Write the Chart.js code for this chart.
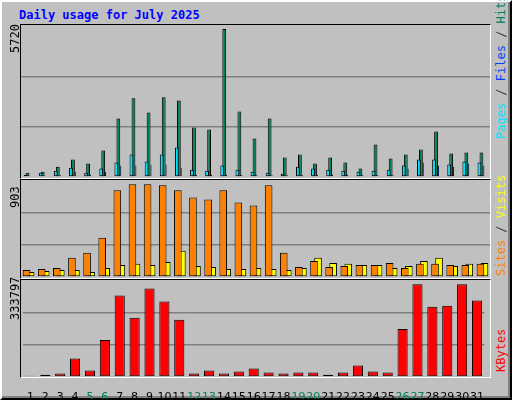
<!DOCTYPE html>
<html><head><meta charset="utf-8">
<script src="https://cdn.jsdelivr.net/npm/chart.js@4"></script>
<style>
body{margin:0;background:#fff}
#frame{position:absolute;left:0;top:0;width:508px;height:396px;background:#c0c0c0;border:2px solid;border-color:#fff #000 #000 #fff;box-shadow:inset -2px -2px 0 #808080}
.panel{position:absolute;left:20px;width:471px;border:1px solid #000;border-right-color:#fff;border-bottom-color:#fff;box-sizing:border-box}
canvas{position:absolute}
.rot{position:absolute;transform:rotate(-90deg);transform-origin:left top;white-space:nowrap;font:12px "DejaVu Sans Mono",monospace}
#title{position:absolute;left:19px;top:8px;font:bold 12px "DejaVu Sans Mono",monospace;color:#0000ff}
</style></head>
<body>
<div id="frame"></div>
<div id="title">Daily usage for July 2025</div>
<div class="panel" style="top:24px;height:155px"></div>
<div class="panel" style="top:179px;height:100px"></div>
<div class="panel" style="top:279px;height:99px"></div>
<canvas id="c1" style="left:21px;top:26px" width="469" height="151"></canvas>
<canvas id="c2" style="left:21px;top:181px" width="469" height="96"></canvas>
<canvas id="c3" style="left:21px;top:281px" width="469" height="118"></canvas>
<div class="rot" style="left:8px;top:53px">5720</div>
<div class="rot" style="left:8px;top:208px">903</div>
<div class="rot" style="left:8px;top:320px">333797</div>
<div class="rot" style="left:494px;top:139px"><span style="color:#00e0ff">Pages</span><span style="color:#404040"> / </span><span style="color:#0040ff">Files</span><span style="color:#404040"> / </span><span style="color:#00805c">Hits</span></div>
<div class="rot" style="left:494px;top:276px"><span style="color:#ff8000">Sites</span><span style="color:#404040"> / </span><span style="color:#ffff00">Visits</span></div>
<div class="rot" style="left:494px;top:372px"><span style="color:#ff0000">KBytes</span></div>
<script>
const days = Array.from({length: 31}, (_, i) => String(i + 1))
const weekends = ['5', '6', '12', '13', '19', '20', '26', '27']
const hits = [168, 207, 401, 673, 518, 1022, 2265, 3041, 2497, 3080, 2963, 1915, 1838, 5720, 2536, 1488, 2265, 750, 867, 518, 750, 556, 324, 1255, 712, 867, 1061, 1760, 906, 945, 945]
const files = [91, 168, 246, 362, 168, 324, 556, 867, 595, 867, 1139, 285, 246, 440, 285, 207, 168, 129, 401, 324, 285, 246, 207, 246, 285, 440, 673, 673, 479, 595, 556]
const pages = [40, 60, 91, 207, 91, 207, 440, 440, 479, 479, 362, 91, 91, 91, 91, 91, 91, 91, 91, 91, 91, 91, 91, 91, 91, 324, 556, 440, 401, 518, 440]
const sites = [69, 79, 88, 187, 236, 383, 844, 903, 903, 893, 844, 775, 756, 844, 726, 697, 893, 236, 98, 157, 98, 108, 118, 118, 137, 88, 128, 128, 118, 118, 128]
const visits = [49, 59, 69, 69, 49, 88, 118, 128, 118, 147, 255, 108, 98, 79, 79, 88, 79, 69, 88, 187, 137, 128, 118, 118, 88, 108, 157, 187, 108, 128, 137]
const kbytes = [4900, 8500, 12200, 67000, 23100, 132800, 293500, 213200, 319100, 271600, 205800, 12200, 23100, 12200, 19500, 30500, 15800, 12200, 15800, 15800, 8500, 15800, 41400, 19500, 15800, 173000, 333797, 253300, 257000, 333797, 275300]

const bar = (data, color, extra) => Object.assign({data, backgroundColor: color, borderColor: '#000', borderWidth: 1, borderSkipped: false}, extra)

function yAxis (max) {
  return {
    min: 0, max, ticks: {display: false, stepSize: max / 3},
    border: {display: false},
    grid: {drawTicks: false, lineWidth: 1.5, color: c => (c.tick.value > 0 && c.tick.value < max) ? '#808080' : 'transparent'}
  }
}
const base = {animation: false, responsive: false, plugins: {legend: {display: false}, tooltip: {enabled: false}}, layout: {padding: 0}}

new Chart(document.getElementById('c1'), {
  type: 'bar',
  data: {labels: days, datasets: [
    bar(hits, '#00805c', {order: 2, categoryPercentage: 0.53, barPercentage: 1.9}),
    bar(files, '#00e0ff', {order: 0, categoryPercentage: 0.53, barPercentage: 1.9}),
    bar(pages, '#0040ff', {order: 1, xAxisID: 'x2', categoryPercentage: 0.72, barPercentage: 0.42, borderWidth: 0.5}),
    bar(days.map(() => null), 'transparent', {xAxisID: 'x2', categoryPercentage: 0.72})
  ]},
  options: Object.assign({}, base, {scales: {x: {display: false}, x2: {display: false}, y: yAxis(5840)}})
})

new Chart(document.getElementById('c2'), {
  type: 'bar',
  data: {labels: days, datasets: [
    bar(visits, '#ffff00', {order: 1, categoryPercentage: 0.53, barPercentage: 1.9}),
    bar(sites, '#ff8000', {order: 0, categoryPercentage: 0.53, barPercentage: 1.9})
  ]},
  options: Object.assign({}, base, {scales: {x: {display: false}, y: yAxis(935)}})
})

new Chart(document.getElementById('c3'), {
  type: 'bar',
  data: {labels: days, datasets: [bar(kbytes, '#ff0000', {categoryPercentage: 1, barPercentage: 0.68})]},
  options: Object.assign({}, base, {scales: {
    x: {
      grid: {display: false}, border: {display: false},
      ticks: {maxRotation: 0, autoSkip: false, padding: 6, font: {family: 'DejaVu Sans', size: 11},
        color: c => weekends.includes(days[c.index]) ? '#00805c' : '#000'},
      afterFit: s => { s.height = 22 }
    },
    y: yAxis(345700)
  }})
})
</script>
</body></html>
